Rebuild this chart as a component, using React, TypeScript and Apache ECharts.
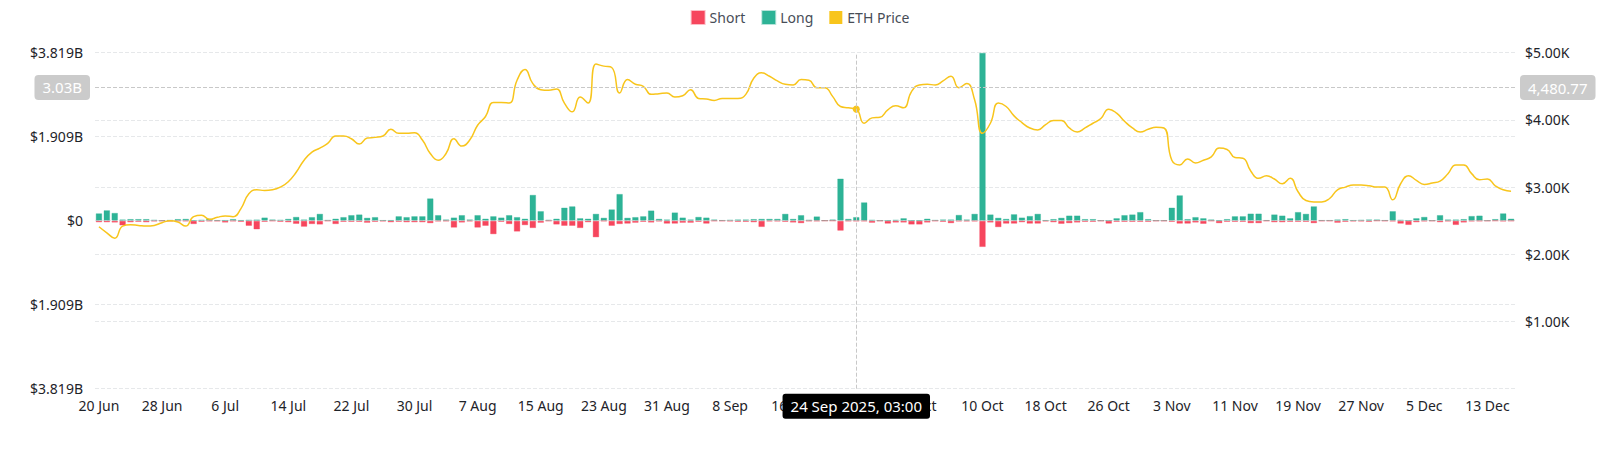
import React, { useEffect, useRef } from 'react';
import * as echarts from 'echarts';

const MONTHS = ['Jan', 'Feb', 'Mar', 'Apr', 'May', 'Jun', 'Jul', 'Aug', 'Sep', 'Oct', 'Nov', 'Dec'];
const DAY_COUNT = 180;
// daily categories from 20 Jun 2025
const categories: string[] = Array.from({ length: DAY_COUNT }, (_, i) => {
  const d = new Date(Date.UTC(2025, 5, 20 + i));
  return `${d.getUTCDate()} ${MONTHS[d.getUTCMonth()]}`;
});

// Long liquidations, billions USD
const longB = [
  0.17, 0.24, 0.18, 0.03, 0.04, 0.04, 0.04, 0.02, 0.005, 0.015,
  0.04, 0.045, 0.005, 0.02, 0.05, 0.01, 0.01, 0.04, 0.01, 0.02,
  0.03, 0.075, 0.03, 0.02, 0.045, 0.09, 0.03, 0.085, 0.16, 0.015,
  0.05, 0.085, 0.13, 0.145, 0.07, 0.085, 0.01, 0.01, 0.105, 0.085,
  0.105, 0.105, 0.51, 0.13, 0.03, 0.075, 0.13, 0.03, 0.13, 0.05,
  0.105, 0.075, 0.13, 0.085, 0.05, 0.59, 0.22, 0.02, 0.05, 0.30,
  0.33, 0.06, 0.05, 0.16, 0.07, 0.26, 0.61, 0.07, 0.085, 0.105,
  0.235, 0.045, 0.03, 0.19, 0.075, 0.03, 0.09, 0.075, 0.03, 0.01,
  0.02, 0.03, 0.03, 0.04, 0.045, 0.045, 0.045, 0.16, 0.045, 0.13,
  0.02, 0.1, 0.005, 0.03, 0.96, 0.045, 0.085, 0.42, 0.02, 0.005,
  0.005, 0.02, 0.06, 0.005, 0.005, 0.05, 0.015, 0.03, 0.03, 0.135,
  0.03, 0.16, 3.819, 0.145, 0.07, 0.045, 0.15, 0.075, 0.11, 0.16,
  0.01, 0.04, 0.07, 0.12, 0.12, 0.04, 0.04, 0.005, 0.005, 0.06,
  0.13, 0.145, 0.2, 0.04, 0.005, 0.005, 0.30, 0.58, 0.04, 0.085,
  0.06, 0.03, 0.005, 0.04, 0.105, 0.105, 0.165, 0.165, 0.01, 0.145,
  0.12, 0.06, 0.2, 0.16, 0.33, 0.01, 0.01, 0.03, 0.04, 0.01,
  0.02, 0.03, 0.03, 0.01, 0.22, 0.02, 0.005, 0.06, 0.09, 0.005,
  0.13, 0.03, 0.03, 0.04, 0.11, 0.12, 0.005, 0.04, 0.17, 0.05,
];

// Short liquidations, billions USD (drawn below zero)
const shortB = [
  0.04, 0.04, 0.045, 0.11, 0.04, 0.03, 0.04, 0.02, 0.01, 0.02,
  0.015, 0.015, 0.08, 0.03, 0.015, 0.015, 0.045, 0.015, 0.03, 0.12,
  0.2, 0.03, 0.01, 0.03, 0.04, 0.075, 0.14, 0.08, 0.09, 0.01,
  0.08, 0.03, 0.03, 0.03, 0.05, 0.03, 0.02, 0.04, 0.03, 0.04,
  0.04, 0.04, 0.06, 0.02, 0.015, 0.16, 0.045, 0.02, 0.16, 0.12,
  0.31, 0.03, 0.08, 0.25, 0.105, 0.17, 0.05, 0.01, 0.09, 0.12,
  0.12, 0.17, 0.04, 0.38, 0.015, 0.12, 0.08, 0.07, 0.05, 0.03,
  0.045, 0.02, 0.07, 0.07, 0.05, 0.05, 0.03, 0.07, 0.01, 0.01,
  0.02, 0.03, 0.03, 0.04, 0.145, 0.02, 0.02, 0.03, 0.045, 0.06,
  0.015, 0.015, 0.005, 0.005, 0.23, 0.015, 0.015, 0.015, 0.05, 0.01,
  0.07, 0.045, 0.045, 0.09, 0.09, 0.045, 0.01, 0.03, 0.06, 0.02,
  0.02, 0.02, 0.6, 0.045, 0.15, 0.07, 0.07, 0.04, 0.07, 0.07,
  0.02, 0.04, 0.075, 0.06, 0.045, 0.03, 0.03, 0.01, 0.07, 0.03,
  0.03, 0.03, 0.03, 0.03, 0.01, 0.01, 0.03, 0.07, 0.07, 0.045,
  0.075, 0.01, 0.06, 0.03, 0.03, 0.03, 0.06, 0.06, 0.01, 0.04,
  0.04, 0.03, 0.03, 0.03, 0.06, 0.01, 0.01, 0.05, 0.03, 0.02,
  0.02, 0.03, 0.005, 0.01, 0.02, 0.07, 0.1, 0.04, 0.02, 0.01,
  0.04, 0.02, 0.1, 0.045, 0.02, 0.015, 0.01, 0.005, 0.02, 0.01,
];

// ETH price, thousands USD
const ethK = [
  2.41, 2.32, 2.24, 2.42, 2.44, 2.43, 2.42, 2.43, 2.47, 2.50,
  2.48, 2.42, 2.56, 2.58, 2.52, 2.55, 2.57, 2.56, 2.68, 2.90,
  2.96, 2.95, 2.96, 3.00, 3.08, 3.22, 3.40, 3.52, 3.58, 3.65,
  3.76, 3.76, 3.72, 3.64, 3.73, 3.74, 3.76, 3.86, 3.80, 3.80,
  3.81, 3.70, 3.50, 3.40, 3.50, 3.72, 3.61, 3.70, 3.92, 4.05,
  4.26, 4.26, 4.25, 4.59, 4.75, 4.54, 4.45, 4.44, 4.46, 4.25,
  4.12, 4.34, 4.25, 4.83, 4.80, 4.78, 4.40, 4.60, 4.53, 4.50,
  4.38, 4.39, 4.40, 4.34, 4.36, 4.45, 4.32, 4.31, 4.29, 4.32,
  4.32, 4.32, 4.38, 4.62, 4.70, 4.65, 4.58, 4.53, 4.52, 4.60,
  4.59, 4.48, 4.48, 4.35, 4.20, 4.18, 4.16, 3.95, 4.03, 4.04,
  4.15, 4.21, 4.18, 4.42, 4.52, 4.53, 4.52, 4.58, 4.65, 4.48,
  4.54, 4.30, 3.80, 3.95, 4.25, 4.20, 4.06, 3.96, 3.88, 3.85,
  3.93, 3.99, 3.99, 3.88, 3.82, 3.88, 3.95, 4.02, 4.16, 4.10,
  3.98, 3.88, 3.82, 3.86, 3.89, 3.88, 3.40, 3.33, 3.42, 3.36,
  3.40, 3.45, 3.58, 3.56, 3.44, 3.43, 3.24, 3.13, 3.17, 3.12,
  3.05, 3.13, 2.93, 2.80, 2.78, 2.78, 2.83, 2.96, 3.00, 3.03,
  3.03, 3.02, 3.00, 3.00, 2.81, 3.05, 3.17, 3.10, 3.04, 3.06,
  3.09, 3.20, 3.33, 3.33, 3.20, 3.11, 3.12, 3.02, 2.96, 2.94,
];

const LEFT_MAX = 3.819e9;
const LEFT_STEP = 1.9095e9;
const HOVER_INDEX = 96;
const HOVER_X_LABEL = '24 Sep 2025, 03:00';
const HOVER_LEFT_VALUE = 3.03e9;
const HOVER_LEFT_LABEL = '3.03B';
const HOVER_RIGHT_VALUE = 4480.77;
const HOVER_RIGHT_LABEL = '4,480.77';

const RED = '#F6465D';
const GREEN = '#2DB396';
const YELLOW = '#F8C51C';

const FONT = '"Noto Sans", "Open Sans", sans-serif';

export default function App() {
  const ref = useRef<HTMLDivElement>(null);

  useEffect(() => {
    document.body.style.margin = '0';
    if (!ref.current) return;
    const chart = echarts.init(ref.current, null, { renderer: 'svg' });

    const pointerLine = { color: '#C8C8C8', type: 'dashed', width: 1 };
    const greyLabel = {
      show: true,
      backgroundColor: '#CBCBCB',
      color: '#fff',
      fontSize: 15,
      fontFamily: FONT,
      padding: [5, 8],
      borderRadius: 4,
      margin: 5,
    };

    const option: any = {
      animation: false,
      textStyle: { fontFamily: FONT },
      legend: {
        top: 5,
        left: 'center',
        icon: 'rect',
        itemWidth: 13,
        itemHeight: 13,
        itemGap: 16,
        textStyle: { fontSize: 14, color: '#474D57', fontFamily: FONT },
        data: ['Short', 'Long', 'ETH Price'],
      },
      grid: { left: 95, right: 85, top: 52.7, bottom: 65.3 },
      xAxis: {
        type: 'category',
        data: categories,
        boundaryGap: true,
        axisLine: { show: false },
        axisTick: { show: false },
        splitLine: { show: false },
        axisLabel: { interval: 7, fontSize: 14, color: '#1E2329', margin: 10, fontFamily: FONT },
        axisPointer: {
          show: true,
          type: 'line',
          status: 'show',
          value: HOVER_INDEX,
          snap: true,
          lineStyle: pointerLine,
          label: {
            show: true,
            formatter: () => HOVER_X_LABEL,
            backgroundColor: '#000',
            color: '#fff',
            fontSize: 15,
            fontFamily: FONT,
            padding: [5, 8],
            borderRadius: 3,
            margin: 5,
          },
        },
      },
      yAxis: [
        {
          type: 'value',
          min: -LEFT_MAX,
          max: LEFT_MAX,
          interval: LEFT_STEP,
          axisLine: { show: false },
          axisTick: { show: false },
          splitLine: { show: true, lineStyle: { color: '#E6E8EA', type: 'dashed' } },
          axisLabel: {
            fontSize: 14,
            color: '#1E2329',
            margin: 12,
            fontFamily: FONT,
            formatter: (v: number) => {
              if (Math.abs(v) < 1) return '$0';
              const m = Math.floor(Math.abs(v) / 1e6 + 1e-6);
              return '$' + (m / 1000).toFixed(3) + 'B';
            },
          },
          axisPointer: {
            show: true,
            type: 'line',
            status: 'show',
            value: HOVER_LEFT_VALUE,
            lineStyle: pointerLine,
            label: { ...greyLabel, formatter: () => HOVER_LEFT_LABEL },
          },
        },
        {
          type: 'value',
          min: 0,
          max: 5000,
          interval: 1000,
          axisLine: { show: false },
          axisTick: { show: false },
          splitLine: { show: true, lineStyle: { color: '#E6E8EA', type: 'dashed' } },
          axisLabel: {
            fontSize: 14,
            color: '#1E2329',
            margin: 10,
            fontFamily: FONT,
            formatter: (v: number) => (v === 0 ? '' : '$' + (v / 1000).toFixed(2) + 'K'),
          },
          axisPointer: {
            show: true,
            type: 'line',
            status: 'show',
            value: HOVER_RIGHT_VALUE,
            lineStyle: pointerLine,
            label: { ...greyLabel, formatter: () => HOVER_RIGHT_LABEL },
          },
        },
      ],
      series: [
        {
          name: 'Long',
          type: 'bar',
          stack: 'liq',
          yAxisIndex: 0,
          barCategoryGap: '16%',
          itemStyle: { color: GREEN, borderColor: 'rgba(45,179,150,0.35)', borderWidth: 1 },
          data: longB.map((v) => v * 1e9),
        },
        {
          name: 'Short',
          type: 'bar',
          stack: 'liq',
          yAxisIndex: 0,
          barCategoryGap: '16%',
          itemStyle: { color: RED, borderColor: 'rgba(246,70,93,0.35)', borderWidth: 1 },
          data: shortB.map((v) => -v * 1e9),
        },
        {
          name: 'ETH Price',
          type: 'line',
          yAxisIndex: 1,
          smooth: 0.5,
          showSymbol: false,
          z: 5,
          itemStyle: { color: YELLOW },
          lineStyle: { color: YELLOW, width: 1.5 },
          data: ethK.map((v) => v * 1000),
          markPoint: {
            symbol: 'circle',
            symbolSize: 7,
            itemStyle: { color: YELLOW },
            label: { show: false },
            data: [{ coord: [HOVER_INDEX, ethK[HOVER_INDEX] * 1000] }],
          },
        },
      ],
    };

    chart.setOption(option);
    return () => chart.dispose();
  }, []);

  return <div ref={ref} style={{ width: 1600, height: 454 }} />;
}
